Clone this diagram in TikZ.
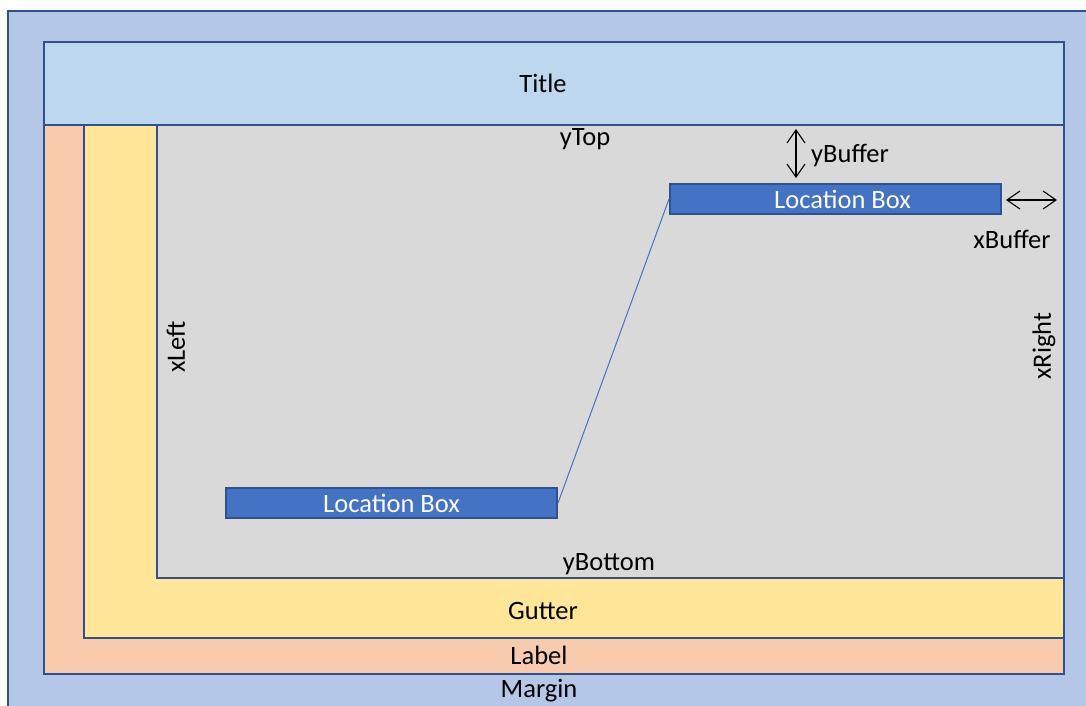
\documentclass[tikz,border=0pt]{standalone}
\usepackage{fontspec}
\setmainfont{Carlito}
\usetikzlibrary{arrows.meta}
\definecolor{marginc}{HTML}{B4C7E7}
\definecolor{titlec}{HTML}{BDD7EE}
\definecolor{labelc}{HTML}{F8CBAD}
\definecolor{gutterc}{HTML}{FFE699}
\definecolor{plotc}{HTML}{D9D9D9}
\definecolor{boxc}{HTML}{4472C4}
\definecolor{edgec}{HTML}{2F528F}
\tikzset{
  region/.style={draw=edgec, line width=2pt},
  txt/.style={font=\fontsize{26.5}{31}\selectfont, text=black, inner sep=0pt},
  locbox/.style={draw=edgec, line width=2pt, fill=boxc, minimum width=331pt, minimum height=30pt, inner sep=0pt, font=\fontsize{26.5}{31}\selectfont, text=white},
  buf/.style={{Straight Barb[length=13pt,width=18pt]}-{Straight Barb[length=13pt,width=18pt]}, line width=1.1pt, black},
}
\begin{document}
\begin{tikzpicture}[x=1pt,y=-1pt]
\useasboundingbox (0,0) rectangle (1086,705);
\fill[white] (0,0) rectangle (1086,705);
\begin{scope}
\clip (0,0) rectangle (1086,705);
\filldraw[region, fill=marginc] (7.5,10.5) rectangle (1100,720);
\end{scope}
\filldraw[region, fill=labelc] (44,125) rectangle (1064,674);
\filldraw[region, fill=gutterc] (84,125) rectangle (1064,638);
\filldraw[region, fill=plotc] (157,125) rectangle (1064,578);
\filldraw[region, fill=titlec] (44,42) rectangle (1064,125);
\draw[region] (44,42) rectangle (1064,674);

\node[txt] (title) at (543,83) {Title};
\node[txt] (ytop) at (585,139) {yTop};
\node[txt] (ybottom) at (609,564) {yBottom};
\node[txt] (gutter) at (543,611) {Gutter};
\node[txt] (label) at (539,655) {Label};
\node[txt] (margin) at (539,691) {Margin};
\node[txt, rotate=90] (xleft) at (176,347) {xLeft};
\node[txt, rotate=90] (xright) at (1044,346) {xRight};
\node[txt, anchor=west] (ybuffer) at (811,155) {yBuffer};
\node[txt] (xbuffer) at (1012,239) {xBuffer};

\node[locbox] (lb1) at (835.5,199) {\hspace{14pt}Location Box};
\node[locbox] (lb2) at (391.5,503) {Location Box};
\draw[boxc, line width=1pt] (lb2.east) -- (lb1.west);

\coordinate (yb1) at (796,129);
\coordinate (yb2) at (796,178);
\draw[buf] (yb1) -- (yb2);
\coordinate (xb1) at (1006,200);
\coordinate (xb2) at (1057,200);
\draw[buf] (xb1) -- (xb2);
\end{tikzpicture}
\end{document}
